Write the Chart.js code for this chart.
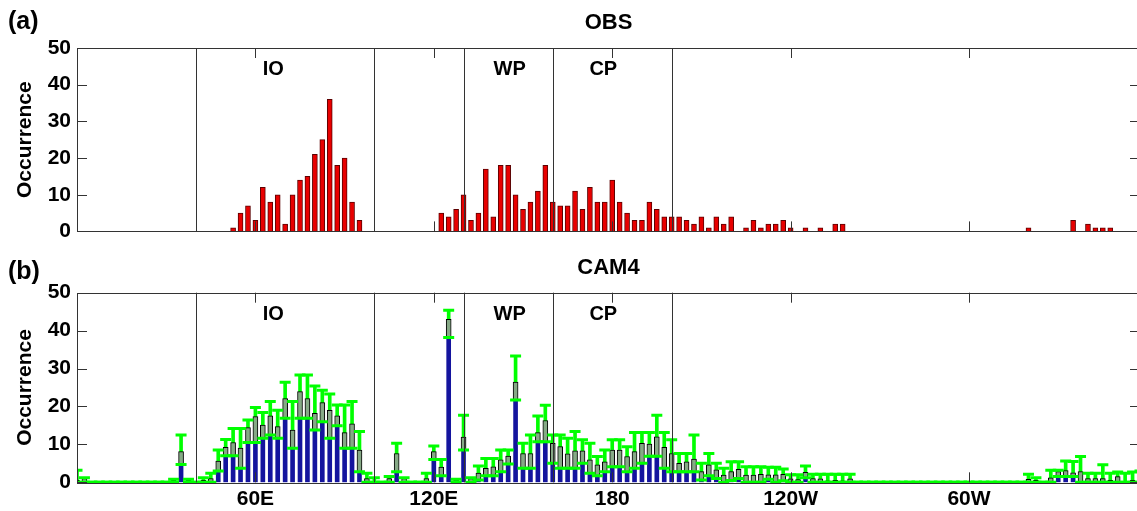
<!DOCTYPE html>
<html>
<head>
<meta charset="utf-8">
<script src="https://cdn.jsdelivr.net/npm/chart.js@4.4.1/dist/chart.umd.min.js"></script>
<style>
  html, body { margin: 0; padding: 0; background: #fff; overflow: hidden; }
  #wrap { position: relative; width: 1140px; height: 511px; }
  .panel { position: absolute; left: 0; width: 1140px; }
</style>
</head>
<body>
<div id="wrap">
  <div class="panel" style="top:0;height:250px"><canvas id="obsChart"></canvas></div>
  <div class="panel" style="top:250px;height:261px"><canvas id="camChart"></canvas></div>
</div>
<script>
// longitude axis (deg east), 2.5 deg bins
const xTickVals = [60, 120, 180, 240, 300];
const xTickText = ['60E', '120E', '180', '120W', '60W'];
const regionLon = [40, 100, 130, 160, 200];
const regionName = ['IO', 'WP', 'CP'];
const regionLabelLon = [66, 145.5, 177];

// (a) OBS counts
const obsLon = [52.5, 55, 57.5, 60, 62.5, 65, 67.5, 70, 72.5, 75, 77.5, 80, 82.5, 85, 87.5, 90, 92.5, 95,
  122.5, 125, 127.5, 130, 132.5, 135, 137.5, 140, 142.5, 145, 147.5, 150, 152.5, 155, 157.5, 160,
  162.5, 165, 167.5, 170, 172.5, 175, 177.5, 180, 182.5, 185, 187.5, 190, 192.5, 195, 197.5, 200,
  202.5, 205, 207.5, 210, 212.5, 215, 217.5, 220, 225, 227.5, 230, 232.5, 235, 237.5, 240, 245,
  250, 255, 257.5, 320, 335, 340, 342.5, 345, 347.5];
const obsCount = [1, 5, 7, 3, 12, 8, 10, 2, 10, 14, 15, 21, 25, 36, 18, 20, 8, 3,
  5, 4, 6, 10, 3, 5, 17, 4, 18, 18, 10, 6, 8, 11, 18, 8,
  7, 7, 11, 6, 12, 8, 8, 14, 8, 5, 3, 3, 8, 6, 4, 4,
  4, 3, 2, 4, 1, 4, 2, 4, 1, 3, 1, 2, 2, 3, 1, 1,
  1, 2, 2, 1, 3, 2, 1, 1, 1];

// (b) CAM4: bar (low), box top (mid), whisker top (high); bins not listed are 0
const camLon = [0, 2.5, 32.5, 35, 37.5, 42.5, 45, 47.5, 50, 52.5, 55, 57.5, 60, 62.5, 65, 67.5, 70,
  72.5, 75, 77.5, 80, 82.5, 85, 87.5, 90, 92.5, 95, 97.5, 100, 105, 107.5, 110, 117.5, 120, 122.5,
  125, 127.5, 130, 132.5, 135, 137.5, 140, 142.5, 145, 147.5, 150, 152.5, 155, 157.5, 160, 162.5,
  165, 167.5, 170, 172.5, 175, 177.5, 180, 182.5, 185, 187.5, 190, 192.5, 195, 197.5, 200, 202.5,
  205, 207.5, 210, 212.5, 215, 217.5, 220, 222.5, 225, 227.5, 230, 232.5, 235, 237.5, 240, 242.5,
  245, 247.5, 250, 252.5, 255, 257.5, 260, 320, 322.5, 327.5, 330, 332.5, 335, 337.5, 340, 342.5,
  345, 347.5, 350, 352.5, 355, 357.5];
const camLow = [0, 0, 0, 4.7, 0, 0, 0, 3, 7, 7, 3.7, 10.5, 10.5, 11.6, 12.5, 11.6, 16.9,
  9, 16.9, 16.9, 13.8, 16, 11.6, 14.9, 9, 9, 2.8, 0, 0, 0, 2.8, 0, 0, 6, 1.7,
  38.2, 0, 8.5, 0, 0.6, 1.7, 1.7, 2.8, 4.8, 21.7, 3.7, 3.7, 10.7, 10.7, 5, 3.7,
  3.7, 3.7, 5, 2.4, 1.7, 2.8, 4.1, 4.1, 2.8, 3.7, 5, 6.9, 6.9, 3.7, 2.8, 2.8,
  2.8, 2.8, 0.6, 1.7, 1, 0, 0.5, 1, 0, 0, 0, 0.8, 0, 0.4, 0, 0,
  1.2, 0, 0, 0, 0, 0, 0, 0, 0, 0, 1.5, 1.5, 1.5, 0, 0, 0,
  0, 0, 0, 0, 0, 0];
const camMid = [0.5, 1, 0.5, 8.1, 0.5, 0.5, 1, 5.6, 9.2, 10.5, 9, 14.4, 17.3, 15.1, 17.5, 14.7, 22.1,
  13.8, 23.9, 22.1, 18.2, 21, 19, 17.5, 13.1, 15.4, 8.5, 1, 0, 1, 7.6, 1, 1, 8.1, 4,
  43, 0.6, 11.9, 1, 2.4, 3.7, 4.1, 5.9, 6.9, 26.4, 7.6, 7.6, 13.1, 16.3, 10.3, 9.4,
  7.5, 8.3, 8.3, 5.9, 4.6, 5.4, 8.5, 8.5, 6.8, 8.1, 10.3, 10.1, 12, 9.2, 7.6, 5,
  5.4, 6.1, 2.8, 4.6, 3.3, 1.9, 2.8, 3.4, 1.9, 1.9, 2.1, 2, 2, 2.1, 0.9, 0.7,
  2.6, 1, 0.9, 0.4, 0.5, 0.4, 0.9, 0.8, 0.5, 1.2, 2.8, 3.1, 2.5, 2.8, 1, 1,
  1, 0.5, 1.5, 0, 0.5, 0];
const camHigh = [3.2, 1.2, 0.8, 12.5, 0.8, 1.2, 2.4, 8.5, 11.3, 14.2, 14.2, 16.4, 19.7, 18.4, 21.3, 19, 26.4,
  21.3, 28.3, 28.3, 25.4, 24.3, 23.3, 20.4, 20.4, 21.3, 13.4, 2.4, 1.2, 1.5, 10.3, 1.2, 2.4, 9.6, 6,
  45.4, 0.8, 17.7, 1.2, 4.3, 6.3, 6.3, 8.5, 8.5, 33.3, 10.3, 12.5, 17.5, 20.3, 12.5, 12.5,
  11.6, 13.4, 11.2, 10.3, 6.8, 8.5, 11.2, 11.2, 9.4, 13.1, 13.1, 13.1, 17.7, 13.1, 11.2, 7.6,
  7.6, 12.5, 5, 7.6, 5, 3.7, 5.4, 5.4, 4.1, 4.1, 4.1, 4, 4, 3.5, 2, 2,
  4.3, 2.1, 2.1, 2.1, 2.1, 2.1, 2.1, 2.1, 1.2, 3.2, 3.2, 5.6, 5.5, 6.8, 2.4, 2.4,
  4.6, 2.4, 2.7, 2.4, 2.7, 3];

const FONT = '"Liberation Sans", Arial, Helvetica, sans-serif';
Chart.defaults.font.family = FONT;
Chart.defaults.color = '#000';

// every 2.5 deg bin gets whisker caps (zero bins give the green base line)
const binLon = [];
for (let lon = 0; lon <= 357.5; lon += 2.5) binLon.push(lon);
const camAt = (arr, lon) => { const i = camLon.indexOf(lon); return i < 0 ? 0 : arr[i]; };

// box, inward ticks, region lines and labels
const frame = {
  id: 'frame',
  afterDatasetsDraw(chart) {
    const { ctx, chartArea: a, scales: { x, y } } = chart;
    ctx.save();
    ctx.strokeStyle = '#333';
    ctx.lineWidth = 1;
    regionLon.forEach(lon => {
      const px = Math.round(x.getPixelForValue(lon)) + 0.5;
      ctx.beginPath(); ctx.moveTo(px, a.top); ctx.lineTo(px, a.bottom); ctx.stroke();
    });
    ctx.fillStyle = '#000';
    ctx.font = 'bold 20px ' + FONT;
    ctx.textAlign = 'center';
    ctx.textBaseline = 'middle';
    regionName.forEach((n, i) => {
      ctx.fillText(n, x.getPixelForValue(regionLabelLon[i]), y.getPixelForValue(44.2));
    });
    ctx.restore();
  },
  afterDraw(chart, args, opts) {
    const { ctx, chartArea: a, scales: { x, y } } = chart;
    ctx.save();
    ctx.strokeStyle = '#333';
    ctx.lineWidth = 1;
    ctx.strokeRect(Math.round(a.left) + 0.5, Math.round(a.top) + 0.5,
      Math.round(a.right - a.left) - 1, Math.round(a.bottom - a.top));
    ctx.beginPath();
    y.ticks.forEach(t => {
      const py = Math.round(y.getPixelForValue(t.value)) + 0.5;
      ctx.moveTo(a.left, py); ctx.lineTo(a.left + 10, py);
      ctx.moveTo(a.right, py); ctx.lineTo(a.right - 10, py);
    });
    x.ticks.forEach(t => {
      const px = Math.round(x.getPixelForValue(t.value)) + 0.5;
      ctx.moveTo(px, a.bottom); ctx.lineTo(px, a.bottom - 10);
      ctx.moveTo(px, a.top); ctx.lineTo(px, a.top + 10);
    });
    ctx.stroke();
    ctx.fillStyle = '#000';
    ctx.font = 'bold 25px ' + FONT;
    ctx.textAlign = 'left';
    ctx.textBaseline = 'middle';
    ctx.fillText(opts.letter, 8, 22);
    ctx.restore();
  }
};

function panelOptions(title, letter, titlePad, showX, xHeight) {
  return {
    responsive: true,
    maintainAspectRatio: false,
    animation: false,
    layout: { padding: 0, autoPadding: false },
    plugins: {
      legend: { display: false },
      tooltip: { enabled: false },
      title: {
        display: true, text: title, fullSize: false, color: '#000',
        font: { size: 22, weight: 'bold' }, padding: titlePad
      },
      frame: { letter: letter }
    },
    scales: {
      x: {
        type: 'linear', min: 0, max: 357.5, offset: false,
        afterBuildTicks: s => { s.ticks = xTickVals.map(v => ({ value: v })); },
        afterFit: s => { s.height = xHeight; s.paddingLeft = 0; s.paddingRight = 0; },
        grid: { display: false, drawTicks: false, offset: false },
        border: { display: false },
        ticks: {
          display: showX, autoSkip: false, maxRotation: 0, padding: 4,
          font: { size: 21, weight: 'bold' },
          callback: v => xTickText[xTickVals.indexOf(v)]
        }
      },
      y: {
        min: 0, max: 50,
        afterFit: s => { s.width = 77; },
        grid: { display: false, drawTicks: false },
        border: { display: false },
        ticks: { stepSize: 10, padding: 6, font: { size: 21, weight: 'bold' } },
        title: {
          display: true, text: 'Occurrence', padding: { top: 13, bottom: 0 },
          font: { size: 21, weight: 'bold' }
        }
      }
    }
  };
}

new Chart(document.getElementById('obsChart'), {
  type: 'bar',
  data: {
    datasets: [{
      label: 'OBS',
      data: obsLon.map((lon, i) => ({ x: lon, y: obsCount[i] })),
      backgroundColor: '#e80000',
      borderColor: '#5c0000',
      borderWidth: 1,
      barThickness: 5,
      grouped: false
    }]
  },
  options: panelOptions('OBS', '(a)', { top: 9.8, bottom: 11.8 }, false, 12),
  plugins: [frame]
});

new Chart(document.getElementById('camChart'), {
  type: 'bar',
  data: {
    datasets: [
      {
        type: 'scatter',
        label: 'caps',
        data: binLon.flatMap(lon => [
          { x: lon, y: camAt(camLow, lon) },
          { x: lon, y: camAt(camHigh, lon) }
        ]),
        pointStyle: 'line',
        pointRadius: 5.5,
        pointBorderWidth: 3,
        borderColor: '#00ff00',
        backgroundColor: '#00ff00',
        clip: { left: 0, top: 5, right: 0, bottom: 3 },
        order: 0
      },
      {
        label: 'box',
        data: camLon.map((lon, i) => ({ x: lon, y: [camLow[i], camMid[i]] }))
          .filter(d => d.y[1] > d.y[0]),
        backgroundColor: '#86a986',
        borderColor: '#000',
        borderWidth: 1,
        borderSkipped: false,
        barThickness: 5,
        grouped: false,
        order: 1
      },
      {
        label: 'whisker',
        data: camLon.map((lon, i) => ({ x: lon, y: [camLow[i], camHigh[i]] })),
        backgroundColor: '#00ff00',
        barThickness: 3,
        grouped: false,
        order: 2
      },
      {
        label: 'CAM4',
        data: camLon.map((lon, i) => ({ x: lon, y: camLow[i] })),
        backgroundColor: '#14149e',
        barThickness: 4,
        grouped: false,
        order: 3
      }
    ]
  },
  options: panelOptions('CAM4', '(b)', { top: 4.8, bottom: 11.5 }, true, 28.7),
  plugins: [frame]
});
</script>
</body>
</html>
